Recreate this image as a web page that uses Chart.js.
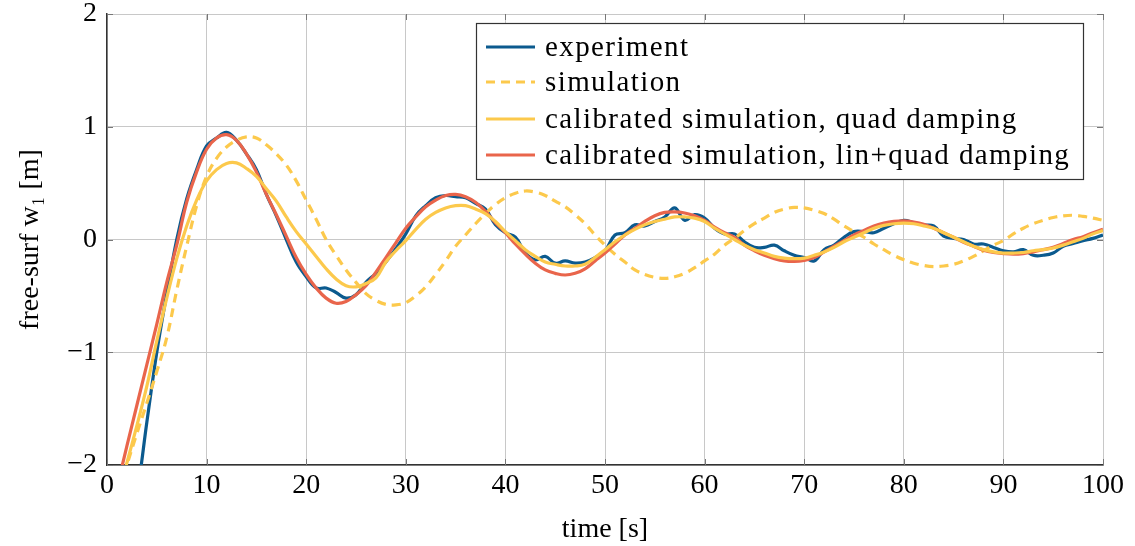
<!DOCTYPE html>
<html>
<head>
<meta charset="utf-8">
<script src="https://cdn.jsdelivr.net/npm/chart.js@4.4.1/dist/chart.umd.min.js"></script>
<style>
html,body{margin:0;padding:0;background:#fff;}
#wrap{width:1135px;height:546px;position:relative;}
</style>
</head>
<body>
<div id="wrap"><canvas id="c" width="1135" height="546"></canvas></div>
<script>
// time grid [s]
const time = [];
for (let t = 0; t <= 100; t++) time.push(t);

const seriesLabels = [
  'experiment',
  'simulation',
  'calibrated simulation, quad damping',
  'calibrated simulation, lin+quad damping'
];

const experiment = [
  -3.5,-3.0,-2.6,-2.25,-1.62,-1.0,-0.48,0.0,0.36,0.62,
  0.83,0.9,0.95,0.88,0.76,0.62,0.4,0.21,0.0,-0.2,
  -0.33,-0.43,-0.43,-0.47,-0.52,-0.49,-0.38,-0.3,-0.2,-0.08,
  0.05,0.21,0.3,0.37,0.39,0.38,0.37,0.32,0.27,0.13,
  0.06,0.02,-0.12,-0.18,-0.15,-0.21,-0.19,-0.21,-0.2,-0.16,
  -0.1,0.04,0.06,0.13,0.12,0.16,0.2,0.28,0.17,0.22,
  0.19,0.1,0.05,0.05,-0.02,-0.07,-0.07,-0.05,-0.1,-0.14,
  -0.16,-0.19,-0.09,-0.05,0.02,0.07,0.07,0.06,0.1,0.14,
  0.17,0.15,0.13,0.12,0.03,0.01,0.0,-0.04,-0.04,-0.07,
  -0.1,-0.11,-0.09,-0.14,-0.14,-0.12,-0.06,-0.035,-0.01,0.01,
  0.04
];

const simulation = [
  -2.6,-2.3,-2.0,-1.72,-1.45,-1.17,-0.87,-0.45,-0.06,0.3,
  0.56,0.72,0.82,0.88,0.91,0.9,0.84,0.76,0.66,0.52,
  0.35,0.18,0.0,-0.14,-0.27,-0.38,-0.48,-0.54,-0.575,-0.58,
  -0.56,-0.5,-0.42,-0.31,-0.19,-0.06,0.04,0.14,0.23,0.31,
  0.37,0.41,0.43,0.42,0.39,0.34,0.29,0.22,0.14,0.04,
  -0.05,-0.13,-0.2,-0.27,-0.31,-0.335,-0.345,-0.33,-0.3,-0.25,
  -0.19,-0.13,-0.05,0.01,0.08,0.14,0.19,0.24,0.27,0.285,
  0.28,0.26,0.23,0.18,0.12,0.07,0.02,-0.04,-0.09,-0.14,
  -0.18,-0.21,-0.23,-0.24,-0.235,-0.22,-0.19,-0.15,-0.1,-0.05,
  -0.01,0.05,0.1,0.14,0.17,0.195,0.21,0.215,0.205,0.19,
  0.17
];

const quadDamping = [
  -2.6,-2.3,-1.98,-1.65,-1.3,-0.9,-0.52,-0.17,0.12,0.35,
  0.52,0.62,0.675,0.68,0.63,0.56,0.45,0.34,0.2,0.07,
  -0.04,-0.15,-0.26,-0.35,-0.41,-0.42,-0.39,-0.34,-0.2,-0.1,
  -0.01,0.09,0.18,0.24,0.28,0.3,0.3,0.27,0.23,0.16,
  0.07,-0.01,-0.09,-0.15,-0.2,-0.22,-0.235,-0.235,-0.22,-0.16,
  -0.09,-0.02,0.04,0.09,0.13,0.16,0.18,0.2,0.2,0.19,
  0.16,0.1,0.05,0.0,-0.05,-0.09,-0.12,-0.15,-0.165,-0.17,
  -0.165,-0.14,-0.11,-0.07,-0.02,0.02,0.06,0.1,0.125,0.14,
  0.145,0.14,0.12,0.1,0.06,0.02,-0.02,-0.06,-0.09,-0.11,
  -0.12,-0.12,-0.115,-0.1,-0.09,-0.075,-0.05,-0.02,0.01,0.05,
  0.08
];

const linQuadDamping = [
  -2.55,-2.2,-1.83,-1.47,-1.11,-0.75,-0.38,-0.05,0.33,0.6,
  0.8,0.9,0.93,0.88,0.76,0.6,0.4,0.22,0.03,-0.16,
  -0.31,-0.43,-0.52,-0.565,-0.55,-0.49,-0.41,-0.29,-0.16,-0.03,
  0.1,0.2,0.29,0.35,0.39,0.4,0.38,0.33,0.25,0.15,
  0.06,-0.04,-0.13,-0.21,-0.27,-0.3,-0.315,-0.3,-0.26,-0.19,
  -0.12,-0.04,0.04,0.1,0.16,0.21,0.24,0.245,0.235,0.21,
  0.17,0.11,0.06,0.02,-0.05,-0.1,-0.14,-0.17,-0.19,-0.195,
  -0.185,-0.16,-0.11,-0.06,-0.01,0.04,0.08,0.12,0.145,0.16,
  0.165,0.155,0.135,0.1,0.06,0.02,-0.025,-0.06,-0.095,-0.115,
  -0.125,-0.13,-0.125,-0.11,-0.09,-0.07,-0.035,0.0,0.025,0.06,
  0.09
];

const xTicks = [0,10,20,30,40,50,60,70,80,90,100];
const yTicks = [-2,-1,0,1,2];
const yTickLabels = ['\u22122','\u22121','0','1','2'];

const colors = ['#0b5a8e', '#fcc94c', '#fcc94c', '#e9654b'];
const dashes = [[], [9, 6], [], []];

function pts(arr){ return time.map((t,i)=>({x:t, y:arr[i]})); }
const allSeries = [experiment, simulation, quadDamping, linQuadDamping];
const order = [2, 3, 1, 0];

const FONT = "'Liberation Serif', 'Times New Roman', serif";

const legendPlugin = {
  id: 'boxLegend',
  afterDatasetsDraw(chart){
    const ctx = chart.ctx;
    const L = 476, T = 23, R = 1083, B = 179;
    ctx.save();
    ctx.fillStyle = '#fff';
    ctx.fillRect(L, T, R-L, B-T);
    ctx.strokeStyle = '#333';
    ctx.lineWidth = 1.2;
    ctx.strokeRect(L+0.5, T+0.5, R-L, B-T);
    const rows = [47, 82, 119, 155];
    ctx.font = '29px ' + FONT;
    try { ctx.letterSpacing = '1.4px'; } catch(e) {}
    ctx.textBaseline = 'middle';
    ctx.fillStyle = '#000';
    seriesLabels.forEach((lab,i)=>{
      const y = rows[i];
      ctx.beginPath();
      ctx.strokeStyle = colors[i];
      ctx.lineWidth = 3.2;
      ctx.setLineDash(dashes[i]);
      ctx.moveTo(486, y);
      ctx.lineTo(535, y);
      ctx.stroke();
      ctx.setLineDash([]);
      ctx.fillText(lab, 545, y+1);
    });
    ctx.restore();
  }
};

const tickPlugin = {
  id: 'innerTicks',
  afterDatasetsDraw(chart){
    const ctx = chart.ctx, a = chart.chartArea;
    const xs = chart.scales.x, ys = chart.scales.y;
    ctx.save();
    ctx.strokeStyle = '#777';
    ctx.lineWidth = 1;
    xTicks.forEach(v=>{
      const px = Math.round(xs.getPixelForValue(v))+0.5;
      ctx.beginPath();
      ctx.moveTo(px, a.bottom); ctx.lineTo(px, a.bottom-6);
      ctx.moveTo(px, a.top); ctx.lineTo(px, a.top+6);
      ctx.stroke();
    });
    yTicks.forEach(v=>{
      const py = Math.round(ys.getPixelForValue(v))+0.5;
      ctx.beginPath();
      ctx.moveTo(a.left, py); ctx.lineTo(a.left+6, py);
      ctx.moveTo(a.right, py); ctx.lineTo(a.right-6, py);
      ctx.stroke();
    });
    ctx.restore();
  }
};

new Chart(document.getElementById('c'), {
  type: 'line',
  data: {
    datasets: order.map(i=>({
      label: seriesLabels[i],
      data: pts(allSeries[i]),
      borderColor: colors[i],
      borderWidth: 3.2,
      borderDash: dashes[i],
      pointRadius: 0,
      fill: false,
      tension: 0.4
    }))
  },
  options: {
    responsive: false,
    animation: false,
    layout: { padding: { top: 14, right: 32, left: 14, bottom: 0 } },
    plugins: { legend: { display: false }, tooltip: { enabled: false } },
    scales: {
      x: {
        type: 'linear', min: 0, max: 100,
        afterBuildTicks(s){ s.ticks = xTicks.map(v=>({value:v})); },
        afterFit(s){ s.height = 81; s.paddingLeft = 0; s.paddingRight = 0; },
        ticks: { font: { family: FONT, size: 28 }, color: '#000', padding: 4, maxRotation: 0 },
        grid: { color: '#c8c8c8', lineWidth: 1, drawTicks: false },
        border: { display: true, color: '#333', width: 1.5 },
        title: { display: true, text: 'time [s]', font: { family: FONT, size: 28 }, color: '#000', padding: { top: 0, bottom: 0 } }
      },
      y: {
        type: 'linear', min: -2, max: 2,
        afterBuildTicks(s){ s.ticks = yTicks.map(v=>({value:v})); },
        afterFit(s){ s.width = 93; s.paddingTop = 0; s.paddingBottom = 0; },
        ticks: {
          font: { family: FONT, size: 28 }, color: '#000', padding: 10,
          callback: (v)=>{ const k = yTicks.indexOf(v); return k>=0 ? yTickLabels[k] : ''; }
        },
        grid: { color: '#c8c8c8', lineWidth: 1, drawTicks: false },
        border: { display: true, color: '#333', width: 1.5 },
        title: { display: true, text: 'free-surf w\u2081 [m]', font: { family: FONT, size: 28 }, color: '#000', padding: { top: 0, bottom: 0 } }
      }
    }
  },
  plugins: [tickPlugin, legendPlugin]
});
</script>
</body>
</html>
